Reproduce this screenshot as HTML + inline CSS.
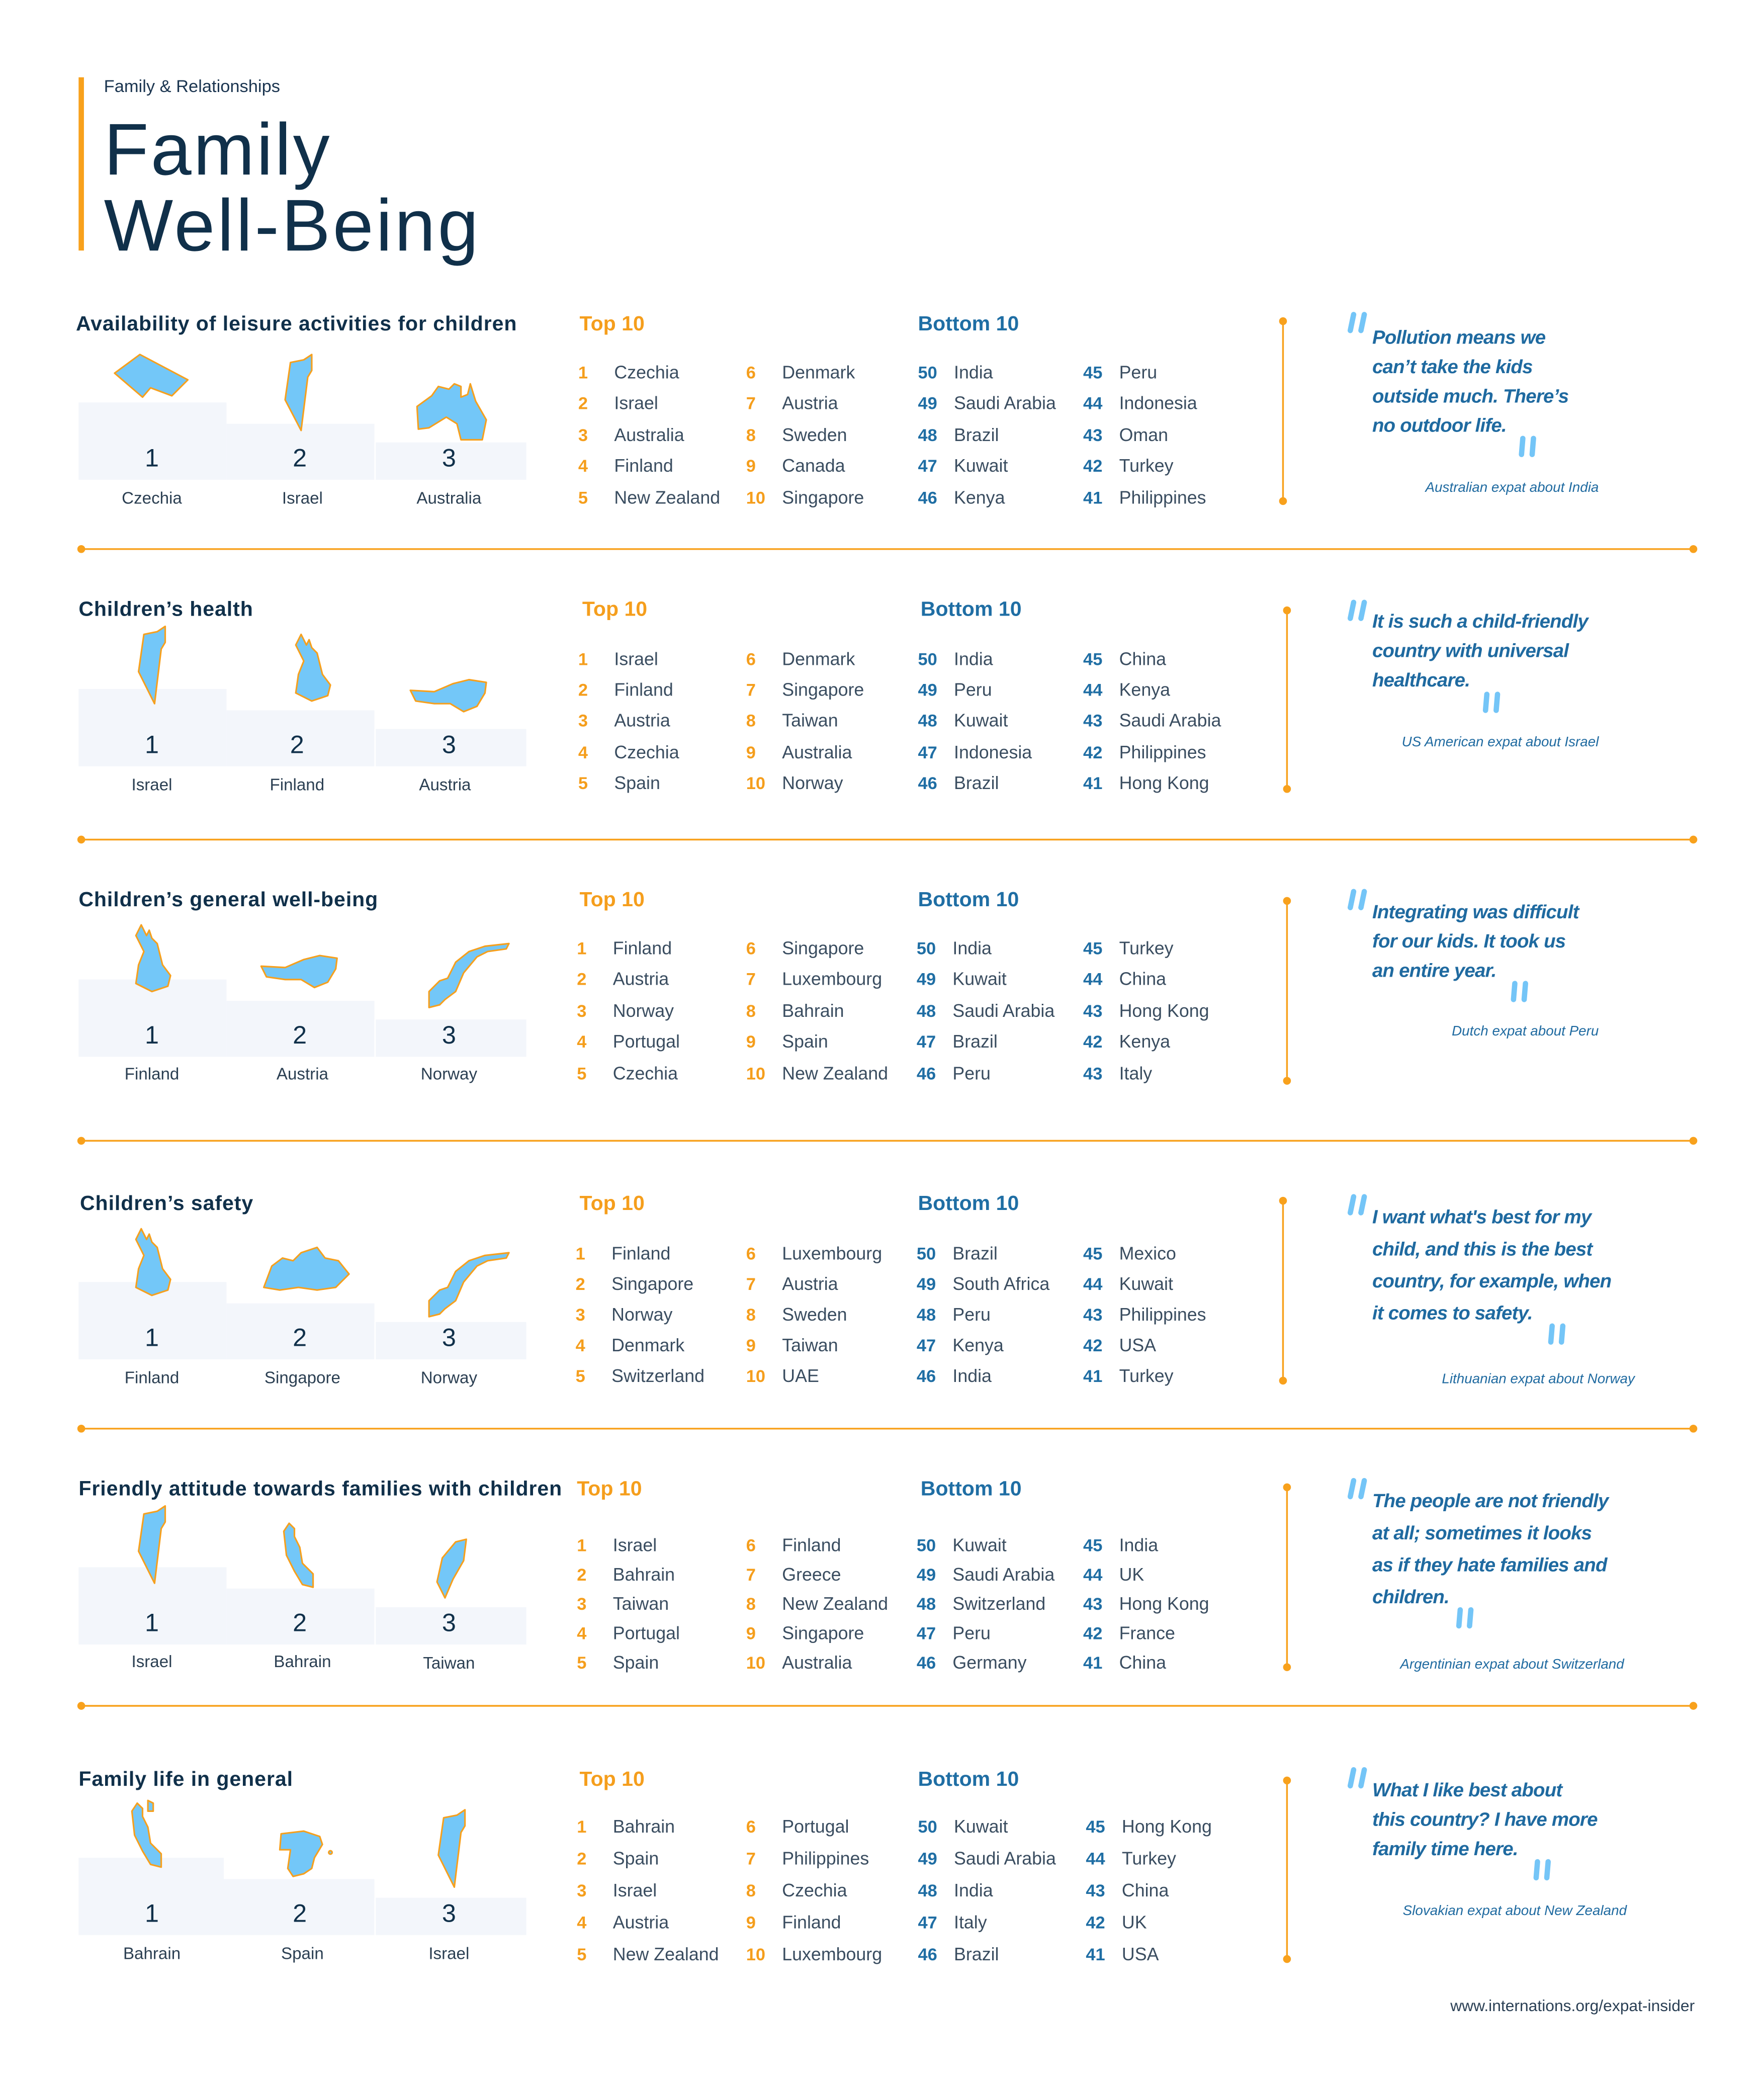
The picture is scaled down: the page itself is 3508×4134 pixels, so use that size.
<!DOCTYPE html>
<html><head><meta charset="utf-8">
<style>
html,body{margin:0;padding:0;background:#fff;}
body{width:3508px;height:4134px;overflow:hidden;}
#st{position:absolute;left:0;top:0;width:1324px;height:1560px;transform:scale(2.6495,2.65);transform-origin:0 0;font-family:"Liberation Sans",sans-serif;color:#13314a;}
.a{position:absolute;white-space:nowrap;line-height:16px;}
.sec{position:absolute;left:0;width:1324px;height:200px;}
.t{font-size:15.5px;font-weight:bold;color:#10304a;top:-8px;letter-spacing:0.35px;}
.h{font-size:15.5px;font-weight:bold;top:-8px;}
.o{color:#f59e1c;}
.b{color:#1f6ea4;}
.n{font-size:13px;font-weight:bold;}
.nm{font-size:13.5px;color:#3a4d60;}
.bn{font-size:13px;font-weight:bold;color:#1f6ea4;}
.blk{position:absolute;background:#f3f6fb;}
.pn{font-size:19px;color:#10304a;width:110px;text-align:center;}
.pl{font-size:12.5px;color:#2b3f52;width:110px;text-align:center;}
.q{font-size:14.5px;font-style:italic;font-weight:bold;color:#1f6aa0;left:1030px;letter-spacing:-0.3px;}
.at{font-size:10.5px;font-style:italic;color:#1f6aa0;text-align:right;width:300px;}
svg{position:absolute;left:0;top:0;overflow:visible;}
.m{fill:#73c7f8;stroke:#f6a01e;stroke-width:1.2;stroke-linejoin:round;}
</style></head><body><div id="st">

<svg width="1324" height="1560">
<rect x="59" y="58" width="4" height="130" fill="#f8a11c"/>
<g stroke="#f8a11c" stroke-width="1.3" fill="#f8a11c">
<line x1="61" y1="412" x2="1271" y2="412"/><circle cx="61" cy="412" r="2.3"/><circle cx="1271" cy="412" r="2.3"/>
<line x1="61" y1="630" x2="1271" y2="630"/><circle cx="61" cy="630" r="2.3"/><circle cx="1271" cy="630" r="2.3"/>
<line x1="61" y1="856" x2="1271" y2="856"/><circle cx="61" cy="856" r="2.3"/><circle cx="1271" cy="856" r="2.3"/>
<line x1="61" y1="1072" x2="1271" y2="1072"/><circle cx="61" cy="1072" r="2.3"/><circle cx="1271" cy="1072" r="2.3"/>
<line x1="61" y1="1280" x2="1271" y2="1280"/><circle cx="61" cy="1280" r="2.3"/><circle cx="1271" cy="1280" r="2.3"/>
<line x1="963" y1="241" x2="963" y2="376"/><circle cx="963" cy="241" r="2.3"/><circle cx="963" cy="376" r="2.3"/>
<line x1="966" y1="458" x2="966" y2="592"/><circle cx="966" cy="458" r="2.3"/><circle cx="966" cy="592" r="2.3"/>
<line x1="966" y1="676" x2="966" y2="811"/><circle cx="966" cy="676" r="2.3"/><circle cx="966" cy="811" r="2.3"/>
<line x1="963" y1="901" x2="963" y2="1036"/><circle cx="963" cy="901" r="2.3"/><circle cx="963" cy="1036" r="2.3"/>
<line x1="966" y1="1116" x2="966" y2="1251"/><circle cx="966" cy="1116" r="2.3"/><circle cx="966" cy="1251" r="2.3"/>
<line x1="966" y1="1336" x2="966" y2="1470"/><circle cx="966" cy="1336" r="2.3"/><circle cx="966" cy="1470" r="2.3"/>
</g>
<g stroke="#74c5f7" stroke-width="4" stroke-linecap="round" fill="none">
<path d="M1016,236 l-2.5,12 M1024,236 l-2.5,12"/>
<path d="M1143,329 l-1,12 M1151,329 l-1,12"/>
<path d="M1016,452 l-2.5,12 M1024,452 l-2.5,12"/>
<path d="M1116,521 l-1,12 M1124,521 l-1,12"/>
<path d="M1016,669 l-2.5,12 M1024,669 l-2.5,12"/>
<path d="M1137,738 l-1,12 M1145,738 l-1,12"/>
<path d="M1016,898 l-2.5,12 M1024,898 l-2.5,12"/>
<path d="M1165,995 l-1,12 M1173,995 l-1,12"/>
<path d="M1016,1111 l-2.5,12 M1024,1111 l-2.5,12"/>
<path d="M1096,1208 l-1,12 M1104,1208 l-1,12"/>
<path d="M1016,1328 l-2.5,12 M1024,1328 l-2.5,12"/>
<path d="M1154,1397 l-1,12 M1162,1397 l-1,12"/>
</g>
</svg>

<div class="a" style="left:78px;top:57px;font-size:13px;color:#1b3550;">Family &amp; Relationships</div>
<div class="a" style="left:78px;top:84px;font-size:55px;line-height:56px;color:#10304a;letter-spacing:1.5px;">Family</div>
<div class="a" style="left:78px;top:140px;font-size:55px;line-height:58px;color:#10304a;letter-spacing:1.8px;">Well-Being</div>
<div class="a" style="right:52px;top:1497px;font-size:12px;color:#2b4055;">www.internations.org/expat-insider</div>

<!-- Section 1 -->
<div class="sec" style="top:244px;">
<div class="blk" style="left:59px;top:58px;width:111px;height:58px;"></div>
<div class="blk" style="left:170px;top:74px;width:111px;height:42px;"></div>
<div class="blk" style="left:282px;top:88px;width:113px;height:28px;"></div>
<svg><polygon class="m" points="86,36 105,22 141,41 129,53 113,47 107,54"/>
<g transform="translate(214,22)"><polygon class="m" points="20,0 20,12 17,17 12,57 0,34 4,6 14,4"/></g>
<g transform="translate(313,44)"><polygon class="m" points="0,17 11,9 16,2 24,4 28,0 33,2 33,10 38,8 40,0 44,13 52,27 49,42 33,42 30,30 22,25 9,33 1,34"/></g></svg>
<div class="a pn" style="left:59px;top:93px;">1</div><div class="a pn" style="left:170px;top:93px;">2</div><div class="a pn" style="left:282px;top:93px;">3</div>
<div class="a pl" style="left:59px;top:122px;">Czechia</div><div class="a pl" style="left:172px;top:122px;">Israel</div><div class="a pl" style="left:282px;top:122px;">Australia</div>
<div class="a t" style="left:57px;">Availability of leisure activities for children</div>
<div class="a h o" style="left:435px;">Top 10</div><div class="a h b" style="left:689px;">Bottom 10</div>
<div class="a n o" style="left:434px;top:28px;">1</div><div class="a nm" style="left:461px;top:28px;">Czechia</div>
<div class="a n o" style="left:434px;top:51px;">2</div><div class="a nm" style="left:461px;top:51px;">Israel</div>
<div class="a n o" style="left:434px;top:75px;">3</div><div class="a nm" style="left:461px;top:75px;">Australia</div>
<div class="a n o" style="left:434px;top:98px;">4</div><div class="a nm" style="left:461px;top:98px;">Finland</div>
<div class="a n o" style="left:434px;top:122px;">5</div><div class="a nm" style="left:461px;top:122px;">New Zealand</div>
<div class="a n o" style="left:560px;top:28px;">6</div><div class="a nm" style="left:587px;top:28px;">Denmark</div>
<div class="a n o" style="left:560px;top:51px;">7</div><div class="a nm" style="left:587px;top:51px;">Austria</div>
<div class="a n o" style="left:560px;top:75px;">8</div><div class="a nm" style="left:587px;top:75px;">Sweden</div>
<div class="a n o" style="left:560px;top:98px;">9</div><div class="a nm" style="left:587px;top:98px;">Canada</div>
<div class="a n o" style="left:560px;top:122px;">10</div><div class="a nm" style="left:587px;top:122px;">Singapore</div>
<div class="a bn" style="left:689px;top:28px;">50</div><div class="a nm" style="left:716px;top:28px;">India</div>
<div class="a bn" style="left:689px;top:51px;">49</div><div class="a nm" style="left:716px;top:51px;">Saudi Arabia</div>
<div class="a bn" style="left:689px;top:75px;">48</div><div class="a nm" style="left:716px;top:75px;">Brazil</div>
<div class="a bn" style="left:689px;top:98px;">47</div><div class="a nm" style="left:716px;top:98px;">Kuwait</div>
<div class="a bn" style="left:689px;top:122px;">46</div><div class="a nm" style="left:716px;top:122px;">Kenya</div>
<div class="a bn" style="left:813px;top:28px;">45</div><div class="a nm" style="left:840px;top:28px;">Peru</div>
<div class="a bn" style="left:813px;top:51px;">44</div><div class="a nm" style="left:840px;top:51px;">Indonesia</div>
<div class="a bn" style="left:813px;top:75px;">43</div><div class="a nm" style="left:840px;top:75px;">Oman</div>
<div class="a bn" style="left:813px;top:98px;">42</div><div class="a nm" style="left:840px;top:98px;">Turkey</div>
<div class="a bn" style="left:813px;top:122px;">41</div><div class="a nm" style="left:840px;top:122px;">Philippines</div>
<div class="a q" style="top:2px;">Pollution means we</div><div class="a q" style="top:24px;">can’t take the kids</div><div class="a q" style="top:46px;">outside much. There’s</div><div class="a q" style="top:68px;">no outdoor life.</div>
<div class="a at" style="left:900px;top:114px;">Australian expat about India</div>
</div>

<!-- Section 2 -->
<div class="sec" style="top:458px;">
<div class="blk" style="left:59px;top:59px;width:111px;height:58px;"></div>
<div class="blk" style="left:170px;top:75px;width:111px;height:42px;"></div>
<div class="blk" style="left:282px;top:89px;width:113px;height:28px;"></div>
<svg><g transform="translate(104,12)"><polygon class="m" points="20,0 20,12 17,17 12,58 0,34 4,6 14,4"/></g>
<g transform="translate(220,18)"><polygon class="m" points="6,0 10,8 12,4 14,10 18,14 22,30 28,38 26,46 14,50 2,44 4,30 8,20 2,8"/></g>
<g transform="translate(308,52)"><polygon class="m" points="0,8 18,9 32,3 44,0 57,2 56,10 50,20 40,24 30,18 18,18 4,16"/></g></svg>
<div class="a pn" style="left:59px;top:94px;">1</div><div class="a pn" style="left:168px;top:94px;">2</div><div class="a pn" style="left:282px;top:94px;">3</div>
<div class="a pl" style="left:59px;top:123px;">Israel</div><div class="a pl" style="left:168px;top:123px;">Finland</div><div class="a pl" style="left:279px;top:123px;">Austria</div>
<div class="a t" style="left:59px;">Children’s health</div>
<div class="a h o" style="left:437px;">Top 10</div><div class="a h b" style="left:691px;">Bottom 10</div>
<div class="a n o" style="left:434px;top:29px;">1</div><div class="a nm" style="left:461px;top:29px;">Israel</div>
<div class="a n o" style="left:434px;top:52px;">2</div><div class="a nm" style="left:461px;top:52px;">Finland</div>
<div class="a n o" style="left:434px;top:75px;">3</div><div class="a nm" style="left:461px;top:75px;">Austria</div>
<div class="a n o" style="left:434px;top:99px;">4</div><div class="a nm" style="left:461px;top:99px;">Czechia</div>
<div class="a n o" style="left:434px;top:122px;">5</div><div class="a nm" style="left:461px;top:122px;">Spain</div>
<div class="a n o" style="left:560px;top:29px;">6</div><div class="a nm" style="left:587px;top:29px;">Denmark</div>
<div class="a n o" style="left:560px;top:52px;">7</div><div class="a nm" style="left:587px;top:52px;">Singapore</div>
<div class="a n o" style="left:560px;top:75px;">8</div><div class="a nm" style="left:587px;top:75px;">Taiwan</div>
<div class="a n o" style="left:560px;top:99px;">9</div><div class="a nm" style="left:587px;top:99px;">Australia</div>
<div class="a n o" style="left:560px;top:122px;">10</div><div class="a nm" style="left:587px;top:122px;">Norway</div>
<div class="a bn" style="left:689px;top:29px;">50</div><div class="a nm" style="left:716px;top:29px;">India</div>
<div class="a bn" style="left:689px;top:52px;">49</div><div class="a nm" style="left:716px;top:52px;">Peru</div>
<div class="a bn" style="left:689px;top:75px;">48</div><div class="a nm" style="left:716px;top:75px;">Kuwait</div>
<div class="a bn" style="left:689px;top:99px;">47</div><div class="a nm" style="left:716px;top:99px;">Indonesia</div>
<div class="a bn" style="left:689px;top:122px;">46</div><div class="a nm" style="left:716px;top:122px;">Brazil</div>
<div class="a bn" style="left:813px;top:29px;">45</div><div class="a nm" style="left:840px;top:29px;">China</div>
<div class="a bn" style="left:813px;top:52px;">44</div><div class="a nm" style="left:840px;top:52px;">Kenya</div>
<div class="a bn" style="left:813px;top:75px;">43</div><div class="a nm" style="left:840px;top:75px;">Saudi Arabia</div>
<div class="a bn" style="left:813px;top:99px;">42</div><div class="a nm" style="left:840px;top:99px;">Philippines</div>
<div class="a bn" style="left:813px;top:122px;">41</div><div class="a nm" style="left:840px;top:122px;">Hong Kong</div>
<div class="a q" style="top:1px;">It is such a child-friendly</div><div class="a q" style="top:23px;">country with universal</div><div class="a q" style="top:45px;">healthcare.</div>
<div class="a at" style="left:900px;top:91px;">US American expat about Israel</div>
</div>

<!-- Section 3 -->
<div class="sec" style="top:676px;">
<div class="blk" style="left:59px;top:59px;width:111px;height:58px;"></div>
<div class="blk" style="left:170px;top:75px;width:111px;height:42px;"></div>
<div class="blk" style="left:282px;top:89px;width:113px;height:28px;"></div>
<svg><g transform="translate(100,18)"><polygon class="m" points="6,0 10,8 12,4 14,10 18,14 22,30 28,38 26,46 14,50 2,44 4,30 8,20 2,8"/></g>
<g transform="translate(196,41)"><polygon class="m" points="0,8 18,9 32,3 44,0 57,2 56,10 50,20 40,24 30,18 18,18 4,16"/></g>
<g transform="translate(322,30)"><polygon class="m" points="0,50 0,38 8,30 14,28 20,16 30,8 42,4 60,2 58,6 44,8 36,12 26,24 20,38 12,44 8,48"/></g></svg>
<div class="a pn" style="left:59px;top:94px;">1</div><div class="a pn" style="left:170px;top:94px;">2</div><div class="a pn" style="left:282px;top:94px;">3</div>
<div class="a pl" style="left:59px;top:122px;">Finland</div><div class="a pl" style="left:172px;top:122px;">Austria</div><div class="a pl" style="left:282px;top:122px;">Norway</div>
<div class="a t" style="left:59px;">Children’s general well-being</div>
<div class="a h o" style="left:435px;">Top 10</div><div class="a h b" style="left:689px;">Bottom 10</div>
<div class="a n o" style="left:433px;top:28px;">1</div><div class="a nm" style="left:460px;top:28px;">Finland</div>
<div class="a n o" style="left:433px;top:51px;">2</div><div class="a nm" style="left:460px;top:51px;">Austria</div>
<div class="a n o" style="left:433px;top:75px;">3</div><div class="a nm" style="left:460px;top:75px;">Norway</div>
<div class="a n o" style="left:433px;top:98px;">4</div><div class="a nm" style="left:460px;top:98px;">Portugal</div>
<div class="a n o" style="left:433px;top:122px;">5</div><div class="a nm" style="left:460px;top:122px;">Czechia</div>
<div class="a n o" style="left:560px;top:28px;">6</div><div class="a nm" style="left:587px;top:28px;">Singapore</div>
<div class="a n o" style="left:560px;top:51px;">7</div><div class="a nm" style="left:587px;top:51px;">Luxembourg</div>
<div class="a n o" style="left:560px;top:75px;">8</div><div class="a nm" style="left:587px;top:75px;">Bahrain</div>
<div class="a n o" style="left:560px;top:98px;">9</div><div class="a nm" style="left:587px;top:98px;">Spain</div>
<div class="a n o" style="left:560px;top:122px;">10</div><div class="a nm" style="left:587px;top:122px;">New Zealand</div>
<div class="a bn" style="left:688px;top:28px;">50</div><div class="a nm" style="left:715px;top:28px;">India</div>
<div class="a bn" style="left:688px;top:51px;">49</div><div class="a nm" style="left:715px;top:51px;">Kuwait</div>
<div class="a bn" style="left:688px;top:75px;">48</div><div class="a nm" style="left:715px;top:75px;">Saudi Arabia</div>
<div class="a bn" style="left:688px;top:98px;">47</div><div class="a nm" style="left:715px;top:98px;">Brazil</div>
<div class="a bn" style="left:688px;top:122px;">46</div><div class="a nm" style="left:715px;top:122px;">Peru</div>
<div class="a bn" style="left:813px;top:28px;">45</div><div class="a nm" style="left:840px;top:28px;">Turkey</div>
<div class="a bn" style="left:813px;top:51px;">44</div><div class="a nm" style="left:840px;top:51px;">China</div>
<div class="a bn" style="left:813px;top:75px;">43</div><div class="a nm" style="left:840px;top:75px;">Hong Kong</div>
<div class="a bn" style="left:813px;top:98px;">42</div><div class="a nm" style="left:840px;top:98px;">Kenya</div>
<div class="a bn" style="left:813px;top:122px;">43</div><div class="a nm" style="left:840px;top:122px;">Italy</div>
<div class="a q" style="top:1px;">Integrating was difficult</div><div class="a q" style="top:23px;">for our kids. It took us</div><div class="a q" style="top:45px;">an entire year.</div>
<div class="a at" style="left:900px;top:90px;">Dutch expat about Peru</div>
</div>

<!-- Section 4 -->
<div class="sec" style="top:904px;">
<div class="blk" style="left:59px;top:58px;width:111px;height:58px;"></div>
<div class="blk" style="left:170px;top:74px;width:111px;height:42px;"></div>
<div class="blk" style="left:282px;top:88px;width:113px;height:28px;"></div>
<svg><g transform="translate(100,18)"><polygon class="m" points="6,0 10,8 12,4 14,10 18,14 22,30 28,38 26,46 14,50 2,44 4,30 8,20 2,8"/></g>
<g transform="translate(198,32)"><polygon class="m" points="0,30 6,14 14,8 22,10 28,4 40,0 46,8 56,10 64,20 54,30 40,32 26,30 12,32"/></g>
<g transform="translate(322,34)"><polygon class="m" points="0,50 0,38 8,30 14,28 20,16 30,8 42,4 60,2 58,6 44,8 36,12 26,24 20,38 12,44 8,48"/></g></svg>
<div class="a pn" style="left:59px;top:93px;">1</div><div class="a pn" style="left:170px;top:93px;">2</div><div class="a pn" style="left:282px;top:93px;">3</div>
<div class="a pl" style="left:59px;top:122px;">Finland</div><div class="a pl" style="left:172px;top:122px;">Singapore</div><div class="a pl" style="left:282px;top:122px;">Norway</div>
<div class="a t" style="left:60px;">Children’s safety</div>
<div class="a h o" style="left:435px;">Top 10</div><div class="a h b" style="left:689px;">Bottom 10</div>
<div class="a n o" style="left:432px;top:29px;">1</div><div class="a nm" style="left:459px;top:29px;">Finland</div>
<div class="a n o" style="left:432px;top:52px;">2</div><div class="a nm" style="left:459px;top:52px;">Singapore</div>
<div class="a n o" style="left:432px;top:75px;">3</div><div class="a nm" style="left:459px;top:75px;">Norway</div>
<div class="a n o" style="left:432px;top:98px;">4</div><div class="a nm" style="left:459px;top:98px;">Denmark</div>
<div class="a n o" style="left:432px;top:121px;">5</div><div class="a nm" style="left:459px;top:121px;">Switzerland</div>
<div class="a n o" style="left:560px;top:29px;">6</div><div class="a nm" style="left:587px;top:29px;">Luxembourg</div>
<div class="a n o" style="left:560px;top:52px;">7</div><div class="a nm" style="left:587px;top:52px;">Austria</div>
<div class="a n o" style="left:560px;top:75px;">8</div><div class="a nm" style="left:587px;top:75px;">Sweden</div>
<div class="a n o" style="left:560px;top:98px;">9</div><div class="a nm" style="left:587px;top:98px;">Taiwan</div>
<div class="a n o" style="left:560px;top:121px;">10</div><div class="a nm" style="left:587px;top:121px;">UAE</div>
<div class="a bn" style="left:688px;top:29px;">50</div><div class="a nm" style="left:715px;top:29px;">Brazil</div>
<div class="a bn" style="left:688px;top:52px;">49</div><div class="a nm" style="left:715px;top:52px;">South Africa</div>
<div class="a bn" style="left:688px;top:75px;">48</div><div class="a nm" style="left:715px;top:75px;">Peru</div>
<div class="a bn" style="left:688px;top:98px;">47</div><div class="a nm" style="left:715px;top:98px;">Kenya</div>
<div class="a bn" style="left:688px;top:121px;">46</div><div class="a nm" style="left:715px;top:121px;">India</div>
<div class="a bn" style="left:813px;top:29px;">45</div><div class="a nm" style="left:840px;top:29px;">Mexico</div>
<div class="a bn" style="left:813px;top:52px;">44</div><div class="a nm" style="left:840px;top:52px;">Kuwait</div>
<div class="a bn" style="left:813px;top:75px;">43</div><div class="a nm" style="left:840px;top:75px;">Philippines</div>
<div class="a bn" style="left:813px;top:98px;">42</div><div class="a nm" style="left:840px;top:98px;">USA</div>
<div class="a bn" style="left:813px;top:121px;">41</div><div class="a nm" style="left:840px;top:121px;">Turkey</div>
<div class="a q" style="top:2px;">I want what's best for my</div><div class="a q" style="top:26px;">child, and this is the best</div><div class="a q" style="top:50px;">country, for example, when</div><div class="a q" style="top:74px;">it comes to safety.</div>
<div class="a at" style="left:927px;top:123px;">Lithuanian expat about Norway</div>
</div>

<!-- Section 5 -->
<div class="sec" style="top:1118px;">
<div class="blk" style="left:59px;top:58px;width:111px;height:58px;"></div>
<div class="blk" style="left:170px;top:74px;width:111px;height:42px;"></div>
<div class="blk" style="left:282px;top:88px;width:113px;height:28px;"></div>
<svg><g transform="translate(104,12)"><polygon class="m" points="20,0 20,12 17,17 12,58 0,34 4,6 14,4"/></g>
<g transform="translate(211,23)"><polygon class="m" points="2,8 6,2 10,6 10,12 14,20 16,32 24,40 24,50 16,48 10,38 4,26"/></g>
<g transform="translate(328,37)"><polygon class="m" points="14,2 22,0 20,16 12,30 6,44 0,32 4,14"/></g></svg>
<div class="a pn" style="left:59px;top:93px;">1</div><div class="a pn" style="left:170px;top:93px;">2</div><div class="a pn" style="left:282px;top:93px;">3</div>
<div class="a pl" style="left:59px;top:121px;">Israel</div><div class="a pl" style="left:172px;top:121px;">Bahrain</div><div class="a pl" style="left:282px;top:122px;">Taiwan</div>
<div class="a t" style="left:59px;">Friendly attitude towards families with children</div>
<div class="a h o" style="left:433px;">Top 10</div><div class="a h b" style="left:691px;">Bottom 10</div>
<div class="a n o" style="left:433px;top:34px;">1</div><div class="a nm" style="left:460px;top:34px;">Israel</div>
<div class="a n o" style="left:433px;top:56px;">2</div><div class="a nm" style="left:460px;top:56px;">Bahrain</div>
<div class="a n o" style="left:433px;top:78px;">3</div><div class="a nm" style="left:460px;top:78px;">Taiwan</div>
<div class="a n o" style="left:433px;top:100px;">4</div><div class="a nm" style="left:460px;top:100px;">Portugal</div>
<div class="a n o" style="left:433px;top:122px;">5</div><div class="a nm" style="left:460px;top:122px;">Spain</div>
<div class="a n o" style="left:560px;top:34px;">6</div><div class="a nm" style="left:587px;top:34px;">Finland</div>
<div class="a n o" style="left:560px;top:56px;">7</div><div class="a nm" style="left:587px;top:56px;">Greece</div>
<div class="a n o" style="left:560px;top:78px;">8</div><div class="a nm" style="left:587px;top:78px;">New Zealand</div>
<div class="a n o" style="left:560px;top:100px;">9</div><div class="a nm" style="left:587px;top:100px;">Singapore</div>
<div class="a n o" style="left:560px;top:122px;">10</div><div class="a nm" style="left:587px;top:122px;">Australia</div>
<div class="a bn" style="left:688px;top:34px;">50</div><div class="a nm" style="left:715px;top:34px;">Kuwait</div>
<div class="a bn" style="left:688px;top:56px;">49</div><div class="a nm" style="left:715px;top:56px;">Saudi Arabia</div>
<div class="a bn" style="left:688px;top:78px;">48</div><div class="a nm" style="left:715px;top:78px;">Switzerland</div>
<div class="a bn" style="left:688px;top:100px;">47</div><div class="a nm" style="left:715px;top:100px;">Peru</div>
<div class="a bn" style="left:688px;top:122px;">46</div><div class="a nm" style="left:715px;top:122px;">Germany</div>
<div class="a bn" style="left:813px;top:34px;">45</div><div class="a nm" style="left:840px;top:34px;">India</div>
<div class="a bn" style="left:813px;top:56px;">44</div><div class="a nm" style="left:840px;top:56px;">UK</div>
<div class="a bn" style="left:813px;top:78px;">43</div><div class="a nm" style="left:840px;top:78px;">Hong Kong</div>
<div class="a bn" style="left:813px;top:100px;">42</div><div class="a nm" style="left:840px;top:100px;">France</div>
<div class="a bn" style="left:813px;top:122px;">41</div><div class="a nm" style="left:840px;top:122px;">China</div>
<div class="a q" style="top:1px;">The people are not friendly</div><div class="a q" style="top:25px;">at all; sometimes it looks</div><div class="a q" style="top:49px;">as if they hate families and</div><div class="a q" style="top:73px;">children.</div>
<div class="a at" style="left:919px;top:123px;">Argentinian expat about Switzerland</div>
</div>

<!-- Section 6 -->
<div class="sec" style="top:1336px;">
<div class="blk" style="left:59px;top:58px;width:109px;height:58px;"></div>
<div class="blk" style="left:168px;top:74px;width:113px;height:42px;"></div>
<div class="blk" style="left:282px;top:88px;width:113px;height:28px;"></div>
<svg><g transform="translate(97,15)"><polygon class="m" points="2,8 6,2 10,6 10,12 14,20 16,32 24,40 24,50 16,48 10,38 4,26"/><polygon class="m" points="14,0 18,2 18,8 14,8"/></g>
<g transform="translate(210,38)"><polygon class="m" points="1,2 18,0 30,4 32,10 26,20 24,28 18,32 10,34 6,28 8,14 0,14"/><circle class="m" cx="38" cy="16" r="1.3"/></g>
<g transform="translate(329,22)"><polygon class="m" points="20,0 20,12 17,17 12,58 0,34 4,6 14,4"/></g></svg>
<div class="a pn" style="left:59px;top:93px;">1</div><div class="a pn" style="left:170px;top:93px;">2</div><div class="a pn" style="left:282px;top:93px;">3</div>
<div class="a pl" style="left:59px;top:122px;">Bahrain</div><div class="a pl" style="left:172px;top:122px;">Spain</div><div class="a pl" style="left:282px;top:122px;">Israel</div>
<div class="a t" style="left:59px;">Family life in general</div>
<div class="a h o" style="left:435px;">Top 10</div><div class="a h b" style="left:689px;">Bottom 10</div>
<div class="a n o" style="left:433px;top:27px;">1</div><div class="a nm" style="left:460px;top:27px;">Bahrain</div>
<div class="a n o" style="left:433px;top:51px;">2</div><div class="a nm" style="left:460px;top:51px;">Spain</div>
<div class="a n o" style="left:433px;top:75px;">3</div><div class="a nm" style="left:460px;top:75px;">Israel</div>
<div class="a n o" style="left:433px;top:99px;">4</div><div class="a nm" style="left:460px;top:99px;">Austria</div>
<div class="a n o" style="left:433px;top:123px;">5</div><div class="a nm" style="left:460px;top:123px;">New Zealand</div>
<div class="a n o" style="left:560px;top:27px;">6</div><div class="a nm" style="left:587px;top:27px;">Portugal</div>
<div class="a n o" style="left:560px;top:51px;">7</div><div class="a nm" style="left:587px;top:51px;">Philippines</div>
<div class="a n o" style="left:560px;top:75px;">8</div><div class="a nm" style="left:587px;top:75px;">Czechia</div>
<div class="a n o" style="left:560px;top:99px;">9</div><div class="a nm" style="left:587px;top:99px;">Finland</div>
<div class="a n o" style="left:560px;top:123px;">10</div><div class="a nm" style="left:587px;top:123px;">Luxembourg</div>
<div class="a bn" style="left:689px;top:27px;">50</div><div class="a nm" style="left:716px;top:27px;">Kuwait</div>
<div class="a bn" style="left:689px;top:51px;">49</div><div class="a nm" style="left:716px;top:51px;">Saudi Arabia</div>
<div class="a bn" style="left:689px;top:75px;">48</div><div class="a nm" style="left:716px;top:75px;">India</div>
<div class="a bn" style="left:689px;top:99px;">47</div><div class="a nm" style="left:716px;top:99px;">Italy</div>
<div class="a bn" style="left:689px;top:123px;">46</div><div class="a nm" style="left:716px;top:123px;">Brazil</div>
<div class="a bn" style="left:815px;top:27px;">45</div><div class="a nm" style="left:842px;top:27px;">Hong Kong</div>
<div class="a bn" style="left:815px;top:51px;">44</div><div class="a nm" style="left:842px;top:51px;">Turkey</div>
<div class="a bn" style="left:815px;top:75px;">43</div><div class="a nm" style="left:842px;top:75px;">China</div>
<div class="a bn" style="left:815px;top:99px;">42</div><div class="a nm" style="left:842px;top:99px;">UK</div>
<div class="a bn" style="left:815px;top:123px;">41</div><div class="a nm" style="left:842px;top:123px;">USA</div>
<div class="a q" style="top:0px;">What I like best about</div><div class="a q" style="top:22px;">this country? I have more</div><div class="a q" style="top:44px;">family time here.</div>
<div class="a at" style="left:921px;top:90px;">Slovakian expat about New Zealand</div>
</div>

</div></body></html>
